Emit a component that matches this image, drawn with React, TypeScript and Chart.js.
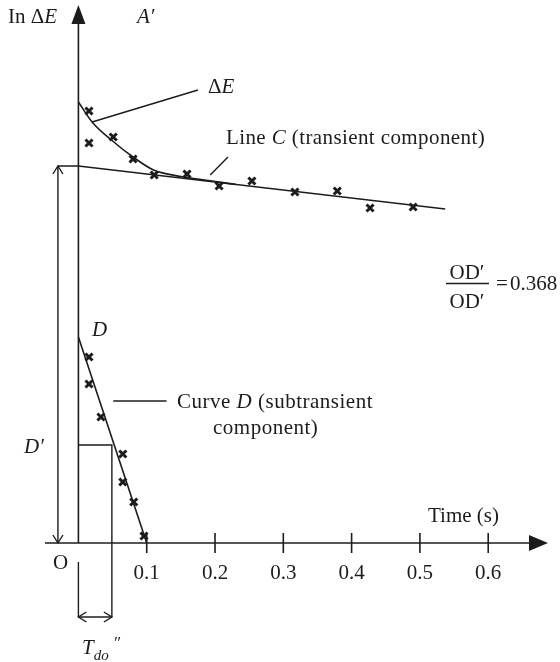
import React, { useEffect, useRef } from "react";
import { Chart, registerables } from "chart.js";

Chart.register(...registerables);

// ---- data (time in s, ln ΔE in arbitrary units) ----
const xTickValues = [0.1, 0.2, 0.3, 0.4, 0.5, 0.6];
const xTickLabels = ["0.1", "0.2", "0.3", "0.4", "0.5", "0.6"];

const deltaEMarksT = [0.0155, 0.0155, 0.051, 0.08, 0.111, 0.159, 0.206, 0.254, 0.317, 0.379, 0.427, 0.49];
const deltaEMarksY = [4.32, 4.0, 4.06, 3.84, 3.68, 3.69, 3.57, 3.62, 3.51, 3.52, 3.35, 3.36];

const curveDMarksT = [0.0155, 0.0155, 0.033, 0.065, 0.065, 0.081, 0.096];
const curveDMarksY = [1.86, 1.59, 1.26, 0.89, 0.61, 0.41, 0.07];

const lineCT = [-0.03, 0, 0.537];
const lineCY = [3.77, 3.77, 3.34];

const deltaECurveT = [0, 0.02, 0.05, 0.08, 0.11, 0.15, 0.19, 0.23];
const deltaECurveY = [4.41, 4.21, 4.02, 3.86, 3.73, 3.665, 3.625, 3.586];

const curveDT = [0, 0.1];
const curveDY = [2.06, 0];

const dPrimeLevel = 3.77;
const dPrimeT = -0.03;
const tdoT = 0.049;
const tdoLevel = 0.98;

const pts = (t: number[], y: number[]) => t.map((v, i) => ({ x: v, y: y[i] }));

const INK = "#1c1c1c";
const FONT = "Liberation Serif, Times New Roman, serif";

type Run = { t: string; it?: boolean; size?: number; dy?: number };

function drawRuns(
  ctx: CanvasRenderingContext2D,
  runs: Run[],
  x: number,
  y: number,
  align: "left" | "center" = "left",
  spacing = 0
) {
  const fontOf = (r: Run) => `${r.it ? "italic " : ""}${r.size ?? 21}px ${FONT}`;
  (ctx as any).letterSpacing = `${spacing}px`;
  let total = 0;
  for (const r of runs) {
    ctx.font = fontOf(r);
    total += ctx.measureText(r.t).width;
  }
  let cx = align === "center" ? x - total / 2 : x;
  ctx.textBaseline = "alphabetic";
  ctx.textAlign = "left";
  for (const r of runs) {
    ctx.font = fontOf(r);
    ctx.fillText(r.t, cx, y + (r.dy ?? 0));
    cx += ctx.measureText(r.t).width;
  }
  (ctx as any).letterSpacing = "0px";
}

const overlay = {
  id: "overlay",
  afterDatasetsDraw(chart: any) {
    const ctx: CanvasRenderingContext2D = chart.ctx;
    const xs = chart.scales.x;
    const ys = chart.scales.y;
    const X = (v: number) => xs.getPixelForValue(v);
    const Y = (v: number) => ys.getPixelForValue(v);
    ctx.save();
    ctx.strokeStyle = INK;
    ctx.fillStyle = INK;
    ctx.lineWidth = 1.6;

    const line = (x1: number, y1: number, x2: number, y2: number) => {
      ctx.beginPath();
      ctx.moveTo(x1, y1);
      ctx.lineTo(x2, y2);
      ctx.stroke();
    };
    const tri = (a: number[], b: number[], c: number[]) => {
      ctx.beginPath();
      ctx.moveTo(a[0], a[1]);
      ctx.lineTo(b[0], b[1]);
      ctx.lineTo(c[0], c[1]);
      ctx.closePath();
      ctx.fill();
    };

    // x axis
    const y0 = Y(0);
    const x0 = X(0);
    line(X(-0.049), y0, X(0.665), y0);
    const xt = X(0.6875);
    tri([xt, y0], [xt - 19, y0 - 8], [xt - 19, y0 + 8]);
    xTickValues.forEach((v, i) => {
      line(X(v), y0 - 10, X(v), y0 + 10);
      drawRuns(ctx, [{ t: xTickLabels[i] }], X(v), y0 + 36, "center");
    });

    // y axis
    const yt = Y(5.38);
    line(x0, y0, x0, yt + 15);
    tri([x0, yt], [x0 - 7, yt + 19], [x0 + 7, yt + 19]);

    // D' double arrow heads (open)
    const dx = X(dPrimeT);
    const dTop = Y(dPrimeLevel);
    ctx.lineWidth = 1.4;
    ctx.beginPath();
    ctx.moveTo(dx - 5, dTop + 8);
    ctx.lineTo(dx, dTop);
    ctx.lineTo(dx + 5, dTop + 8);
    ctx.stroke();
    ctx.beginPath();
    ctx.moveTo(dx - 5, y0 - 8);
    ctx.lineTo(dx, y0);
    ctx.lineTo(dx + 5, y0 - 8);
    ctx.stroke();

    // T_do'' arrow heads (open)
    const ay = Y(-0.74);
    const ax1 = X(0);
    const ax2 = X(tdoT);
    ctx.beginPath();
    ctx.moveTo(ax1 + 8, ay - 5);
    ctx.lineTo(ax1, ay);
    ctx.lineTo(ax1 + 8, ay + 5);
    ctx.stroke();
    ctx.beginPath();
    ctx.moveTo(ax2 - 8, ay - 5);
    ctx.lineTo(ax2, ay);
    ctx.lineTo(ax2 - 8, ay + 5);
    ctx.stroke();

    // texts
    ctx.fillStyle = INK;
    drawRuns(ctx, [{ t: "In " }, { t: "Δ" }, { t: "E", it: true }], 8, 23);
    drawRuns(ctx, [{ t: "A′", it: true }], 137, 23);
    drawRuns(ctx, [{ t: "Δ" }, { t: "E", it: true }], 208, 93);
    drawRuns(ctx, [{ t: "Line " }, { t: "C", it: true }, { t: " (transient component)" }], 226, 144, "left", 0.4);

    // fraction
    drawRuns(ctx, [{ t: "OD′" }], 467, 279, "center");
    ctx.lineWidth = 1.3;
    line(446, 283.5, 489, 283.5);
    drawRuns(ctx, [{ t: "OD′" }], 467, 308, "center");
    drawRuns(ctx, [{ t: "=" }], 496, 290);
    drawRuns(ctx, [{ t: "0.368" }], 510, 290);

    drawRuns(ctx, [{ t: "D", it: true }], 92, 336);
    drawRuns(ctx, [{ t: "Curve " }, { t: "D", it: true }, { t: " (subtransient" }], 177, 408, "left", 0.5);
    drawRuns(ctx, [{ t: "component)" }], 213, 434, "left", 0.5);
    drawRuns(ctx, [{ t: "D′", it: true }], 24, 453);
    drawRuns(ctx, [{ t: "O" }], 53, 569);
    drawRuns(ctx, [{ t: "Time (s)" }], 428, 522);
    drawRuns(
      ctx,
      [{ t: "T", it: true }, { t: "do", it: true, size: 15, dy: 6 }, { t: " ″", it: true, size: 17, dy: -6 }],
      82,
      654
    );

    ctx.restore();
  },
};

const lineDs = (data: { x: number; y: number }[], extra: any = {}) => ({
  data,
  showLine: true,
  pointRadius: 0,
  borderColor: INK,
  borderWidth: 1.6,
  fill: false,
  ...extra,
});

const markDs = (data: { x: number; y: number }[]) => ({
  data,
  showLine: false,
  pointStyle: "crossRot",
  pointRadius: 5,
  borderColor: INK,
  borderWidth: 3,
});

export default function App() {
  const ref = useRef<HTMLCanvasElement | null>(null);
  useEffect(() => {
    if (!ref.current) return;
    const chart = new Chart(ref.current, {
      type: "scatter",
      data: {
        datasets: [
          markDs(pts(deltaEMarksT, deltaEMarksY)),
          markDs(pts(curveDMarksT, curveDMarksY)),
          lineDs(pts(lineCT, lineCY)),
          lineDs(pts(deltaECurveT, deltaECurveY), { cubicInterpolationMode: "monotone" }),
          lineDs(pts(curveDT, curveDY)),
          // D' span
          lineDs(pts([dPrimeT, dPrimeT], [dPrimeLevel, 0]), { borderWidth: 1.4 }),
          // T_do'' construction
          lineDs(pts([0, tdoT, tdoT], [tdoLevel, tdoLevel, -0.74]), { borderWidth: 1.4 }),
          lineDs(pts([0, 0], [-0.19, -0.74]), { borderWidth: 1.4 }),
          lineDs(pts([0, tdoT], [-0.74, -0.74]), { borderWidth: 1.4 }),
          // leader lines
          lineDs(pts([0.02, 0.175], [4.21, 4.53]), { borderWidth: 1.4 }),
          lineDs(pts([0.193, 0.219], [3.68, 3.86]), { borderWidth: 1.4 }),
          lineDs(pts([0.051, 0.129], [1.42, 1.42]), { borderWidth: 1.4 }),
        ],
      },
      options: {
        animation: false,
        responsive: false,
        devicePixelRatio: 1,
        layout: { padding: 0, autoPadding: false },
        plugins: { legend: { display: false }, tooltip: { enabled: false }, title: { display: false } },
        scales: {
          x: { type: "linear", min: -0.1148, max: 0.7051, display: false },
          y: { type: "linear", min: -1.19, max: 5.43, display: false },
        },
      },
      plugins: [overlay],
    } as any);
    return () => chart.destroy();
  }, []);
  return (
    <div style={{ position: "absolute", left: 0, top: 0, width: 560, height: 662, background: "#fff" }}>
      <canvas ref={ref} width={560} height={662} style={{ display: "block" }} />
    </div>
  );
}
